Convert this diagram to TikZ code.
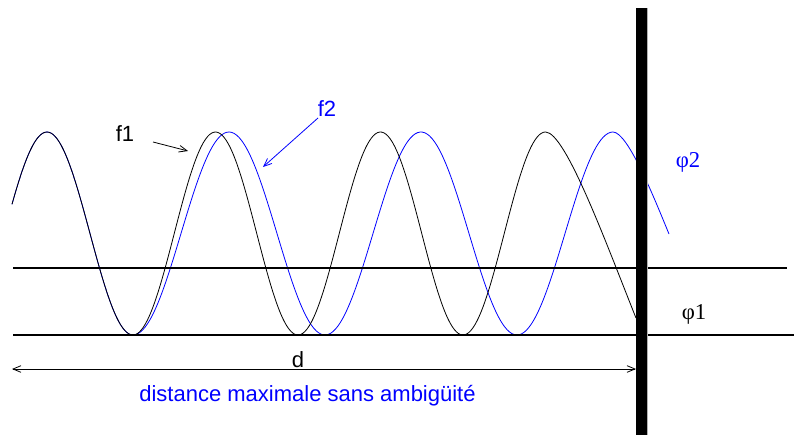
\documentclass[tikz,border=0pt]{standalone}
\usepackage{fontspec}
\setmainfont{Liberation Sans}
\newfontfamily\serifphi{Liberation Serif}
\usetikzlibrary{arrows.meta}
\begin{document}
\begin{tikzpicture}[x=0.75pt,y=-0.75pt,
  wave/.style={line width=0.6pt},
  hline/.style={line width=0.9pt},
  lbl/.style={font=\fontsize{16.5pt}{18pt}\selectfont, inner sep=0pt, anchor=base},
  phil/.style={font=\serifphi\fontsize{17pt}{19pt}\selectfont, inner sep=0pt, anchor=base},
  barb/.style={-{Straight Barb[length=6pt,width=5pt]}, line width=0.6pt}
]
\useasboundingbox (0,0) rectangle (794,435);
% blue wave f2
\draw[wave,blue] plot[domain=12:133,samples=60,smooth] (\x,{233.5+101.5*cos((\x-133)/86*180)});
\draw[wave,blue] plot[domain=133:613,samples=200,smooth] (\x,{233.5+101.5*cos((\x-133)/96*180)})
  .. controls (628,132) and (655,200) .. (669,234);
% black wave f1
\draw[wave,black] plot[domain=12:133,samples=60,smooth] (\x,{233.5+101.5*cos((\x-133)/86*180)});
\draw[wave,black] plot[domain=133:545.5,samples=200,smooth] (\x,{233.5+101.5*cos((\x-133)/82.5*180)})
  .. controls (565.5,132) and (606,243) .. (636,318);
% horizontal lines
\coordinate (u1) at (13,268); \coordinate (u2) at (787,268);
\coordinate (l1) at (13,335); \coordinate (l2) at (794,335);
\draw[hline] (u1) -- (u2);
\draw[hline] (l1) -- (l2);
% distance arrow
\coordinate (dL) at (12,369); \coordinate (dR) at (636,369);
\draw[line width=0.6pt,{Straight Barb[length=6pt,width=5pt]}-{Straight Barb[length=6pt,width=5pt]}] (dL) -- (dR);
\node[lbl] (d) at (298,368) {d};
\node[lbl,text=blue] (dist) at (307.5,402) {distance maximale sans ambigüité};
% wall
\fill[black] (636,8) rectangle (647,435);
\draw[gray!60,line width=0.75pt] (647.5,8) -- (647.5,435);
% labels
\node[lbl] (f1) at (125,142) {f1};
\node[lbl,text=blue] (f2) at (327,117) {f2};
\coordinate (f1s) at (153,142); \coordinate (f1e) at (188,151);
\coordinate (f2s) at (318,118); \coordinate (f2e) at (263,167);
\draw[barb] (f1s) -- (f1e);
\draw[barb,blue] (f2s) -- (f2e);
\node[phil,text=blue] (phi2) at (688,168) {φ2};
\node[phil] (phi1) at (694,320) {φ1};
\end{tikzpicture}
\end{document}
